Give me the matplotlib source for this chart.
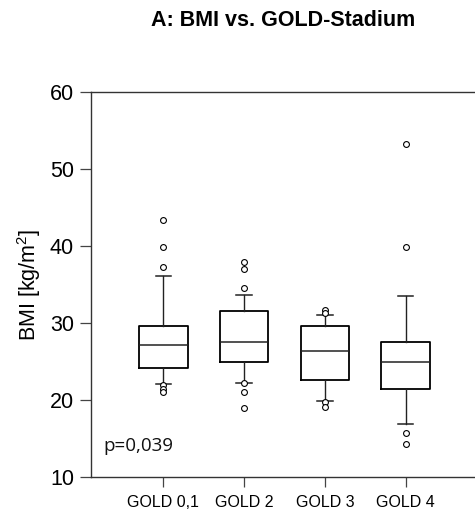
import matplotlib
matplotlib.use("Agg")
import matplotlib.pyplot as plt

# BMI distribution per GOLD stage (box statistics and outliers)
groups = ["GOLD 0,1", "GOLD 2", "GOLD 3", "GOLD 4"]
q1 = [24.2, 24.9, 22.6, 21.5]
med = [27.1, 27.6, 26.4, 24.9]
q3 = [29.55, 31.5, 29.6, 27.5]
whislo = [22.1, 22.2, 19.9, 16.9]
whishi = [36.1, 33.6, 31.0, 33.5]
fliers = [
    [43.3, 39.9, 37.2, 22.0, 21.5, 21.0],
    [37.9, 37.0, 34.5, 22.2, 21.1, 19.0],
    [31.7, 31.3, 19.7, 19.1],
    [53.2, 39.8, 15.8, 14.3],
]
p_text = "p=0,039"

plt.rcParams["font.family"] = ["Liberation Sans", "DejaVu Sans"]
plt.rcParams["mathtext.fontset"] = "custom"
plt.rcParams["mathtext.rm"] = "Liberation Sans"

fig = plt.figure(figsize=(4.75, 5.15), dpi=100)
ax = fig.add_axes([0.191, 0.0732, 0.809, 0.749])

stats = []
for i, g in enumerate(groups):
    stats.append(dict(label=g, q1=q1[i], med=med[i], q3=q3[i],
                      whislo=whislo[i], whishi=whishi[i], fliers=fliers[i]))

positions = [1, 2, 3, 4]
ax.bxp(stats, positions=positions, widths=0.6, showfliers=True,
       boxprops=dict(color="black", linewidth=1.3),
       medianprops=dict(color="#222222", linewidth=1.1),
       whiskerprops=dict(color="#222222", linewidth=1.0),
       capprops=dict(color="#222222", linewidth=1.1),
       capwidths=0.19,
       flierprops=dict(marker="o", markersize=4.2, markerfacecolor="white",
                       markeredgecolor="black", markeredgewidth=0.8,
                       linestyle="none"))

ax.set_xlim(0.1, 4.86)
ax.set_ylim(10, 60)
ax.set_yticks([10, 20, 30, 40, 50, 60])
ax.set_xticks(positions)
ax.set_xticklabels(groups, fontsize=11.5)
ax.tick_params(axis="y", labelsize=15.5, length=8, width=0.9, color="#444444", pad=4)
ax.tick_params(axis="x", length=7, width=0.9, color="#444444", pad=6)

for side in ("left", "bottom", "top"):
    ax.spines[side].set_color("#333333")
    ax.spines[side].set_linewidth(1.0)
ax.spines["right"].set_visible(False)

ax.set_ylabel(r"BMI [kg/m$\mathrm{^2}$]", fontsize=15.5, labelpad=5)

ax.text(0.26, 14.0, p_text, fontsize=13.5, va="center", ha="left",
        family=["Open Sans", "DejaVu Sans"], color="#111111")

fig.text(0.597, 0.961, "A: BMI vs. GOLD-Stadium", fontsize=15.5,
         fontweight="bold", ha="center", va="center")

fig.savefig("out.png", dpi=100)
